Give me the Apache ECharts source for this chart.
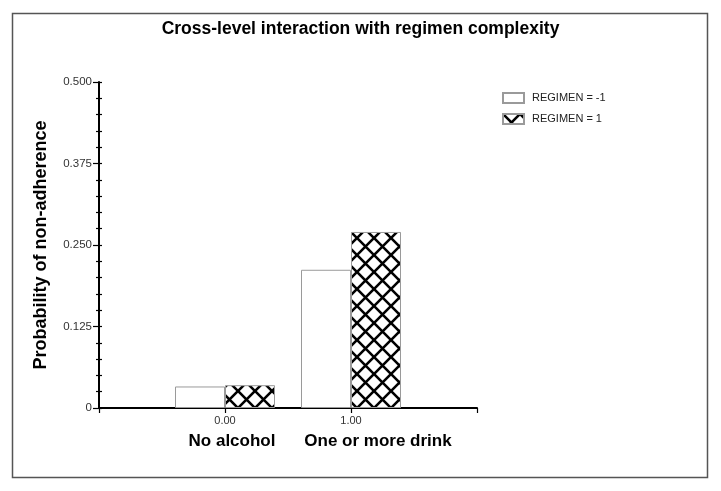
<!DOCTYPE html>
<html>
<head>
<meta charset="utf-8">
<script src="https://cdn.jsdelivr.net/npm/echarts@6/dist/echarts.min.js"></script>
<style>
html,body{margin:0;padding:0;background:#fff;}
#c{width:721px;height:491px;}
</style>
</head>
<body>
<div id="c"></div>
<script>
// Data
const xPositions = [0, 1];
const xTickLabels = ['0.00', '1.00'];
const groupNames = ['No alcohol', 'One or more drink'];
const seriesNames = ['REGIMEN = -1', 'REGIMEN = 1'];
const regimenMinus1 = [0.033, 0.212];
const regimenPlus1 = [0.035, 0.270];
const yTicks = [0, 0.125, 0.25, 0.375, 0.5];

// Crosshatch pattern
const tile = document.createElement('canvas');
const T = 17;
tile.width = T; tile.height = T;
const g = tile.getContext('2d');
g.fillStyle = '#fff';
g.fillRect(0, 0, T, T);
g.strokeStyle = '#000';
g.lineWidth = 2.6;
g.beginPath();
g.moveTo(-2, -2); g.lineTo(T + 2, T + 2);
g.moveTo(T + 2, -2); g.lineTo(-2, T + 2);
g.stroke();

const chart = echarts.init(document.getElementById('c'));
const fontFam = '"Liberation Sans", Arial, sans-serif';

chart.setOption({
  animation: false,
  backgroundColor: '#fff',
  title: {
    text: 'Cross-level interaction with regimen complexity',
    left: 'center',
    top: 15,
    textStyle: { fontFamily: fontFam, fontSize: 17.5, fontWeight: 'bold', color: '#000' }
  },
  legend: {
    orient: 'vertical',
    left: 497,
    top: 87,
    itemWidth: 21,
    itemHeight: 10,
    itemGap: 9,
    icon: 'rect',
    textStyle: { fontFamily: fontFam, fontSize: 11, color: '#222', padding: [0, 0, 0, 3] },
    data: seriesNames
  },
  grid: { left: 99, right: 244, top: 82, bottom: 83, containLabel: false },
  xAxis: {
    type: 'value',
    min: -1,
    max: 2,
    interval: 1,
    axisLine: { show: true, onZero: false, lineStyle: { color: '#000', width: 2 } },
    axisTick: { show: true, length: 5, lineStyle: { color: '#000', width: 1.2 } },
    axisLabel: {
      fontFamily: fontFam, fontSize: 11, color: '#333', margin: 7,
      formatter: function (v) {
        const i = xPositions.indexOf(v);
        return i >= 0 ? xTickLabels[i] : '';
      }
    },
    splitLine: { show: false }
  },
  yAxis: [{
    type: 'value',
    min: 0,
    max: 0.5,
    interval: 0.125,
    name: 'Probability of non-adherence',
    nameLocation: 'middle',
    nameGap: 49,
    nameTextStyle: { fontFamily: fontFam, fontSize: 18, fontWeight: 'bold', color: '#000' },
    axisLine: { show: true, onZero: false, lineStyle: { color: '#000', width: 2 } },
    axisTick: { show: true, length: 6, lineStyle: { color: '#000', width: 1.2 } },
    minorTick: { show: true, splitNumber: 5, length: 3, lineStyle: { color: '#000', width: 1.2 } },
    axisLabel: {
      fontFamily: fontFam, fontSize: 11.5, color: '#333', margin: 7,
      formatter: function (v) {
        const i = yTicks.indexOf(v);
        if (i < 0) return '';
        return v === 0 ? '0' : v.toFixed(3);
      }
    },
    splitLine: { show: false }
  }, {
    type: 'value',
    min: 0,
    max: 0.5,
    interval: 0.025,
    position: 'left',
    offset: 0,
    axisLine: { show: false, onZero: false },
    axisTick: { show: true, inside: true, length: 3, lineStyle: { color: '#000', width: 1.2 } },
    axisLabel: { show: false },
    splitLine: { show: false }
  }],
  series: [{
    name: seriesNames[0],
    type: 'bar',
    barWidth: 50,
    barGap: '0%',
    data: xPositions.map((x, i) => [x, regimenMinus1[i]]),
    itemStyle: { color: '#fff', borderColor: '#9a9a9a', borderWidth: 1 }
  }, {
    name: seriesNames[1],
    type: 'bar',
    barWidth: 50,
    barGap: '0%',
    data: xPositions.map((x, i) => [x, regimenPlus1[i]]),
    itemStyle: { color: { image: tile, repeat: 'repeat' }, borderColor: '#9a9a9a', borderWidth: 1 }
  }],
  graphic: [{
    type: 'rect',
    shape: { x: 12.5, y: 13.5, width: 695, height: 464 },
    style: { fill: 'none', stroke: '#555', lineWidth: 1.5 },
    silent: true
  }, {
    type: 'text',
    x: 232, y: 441,
    style: { text: groupNames[0], fontFamily: fontFam, fontSize: 17, fontWeight: 'bold', fill: '#000', align: 'center', verticalAlign: 'middle' }
  }, {
    type: 'text',
    x: 378, y: 441,
    style: { text: groupNames[1], fontFamily: fontFam, fontSize: 17, fontWeight: 'bold', fill: '#000', align: 'center', verticalAlign: 'middle' }
  }]
});
</script>
</body>
</html>
